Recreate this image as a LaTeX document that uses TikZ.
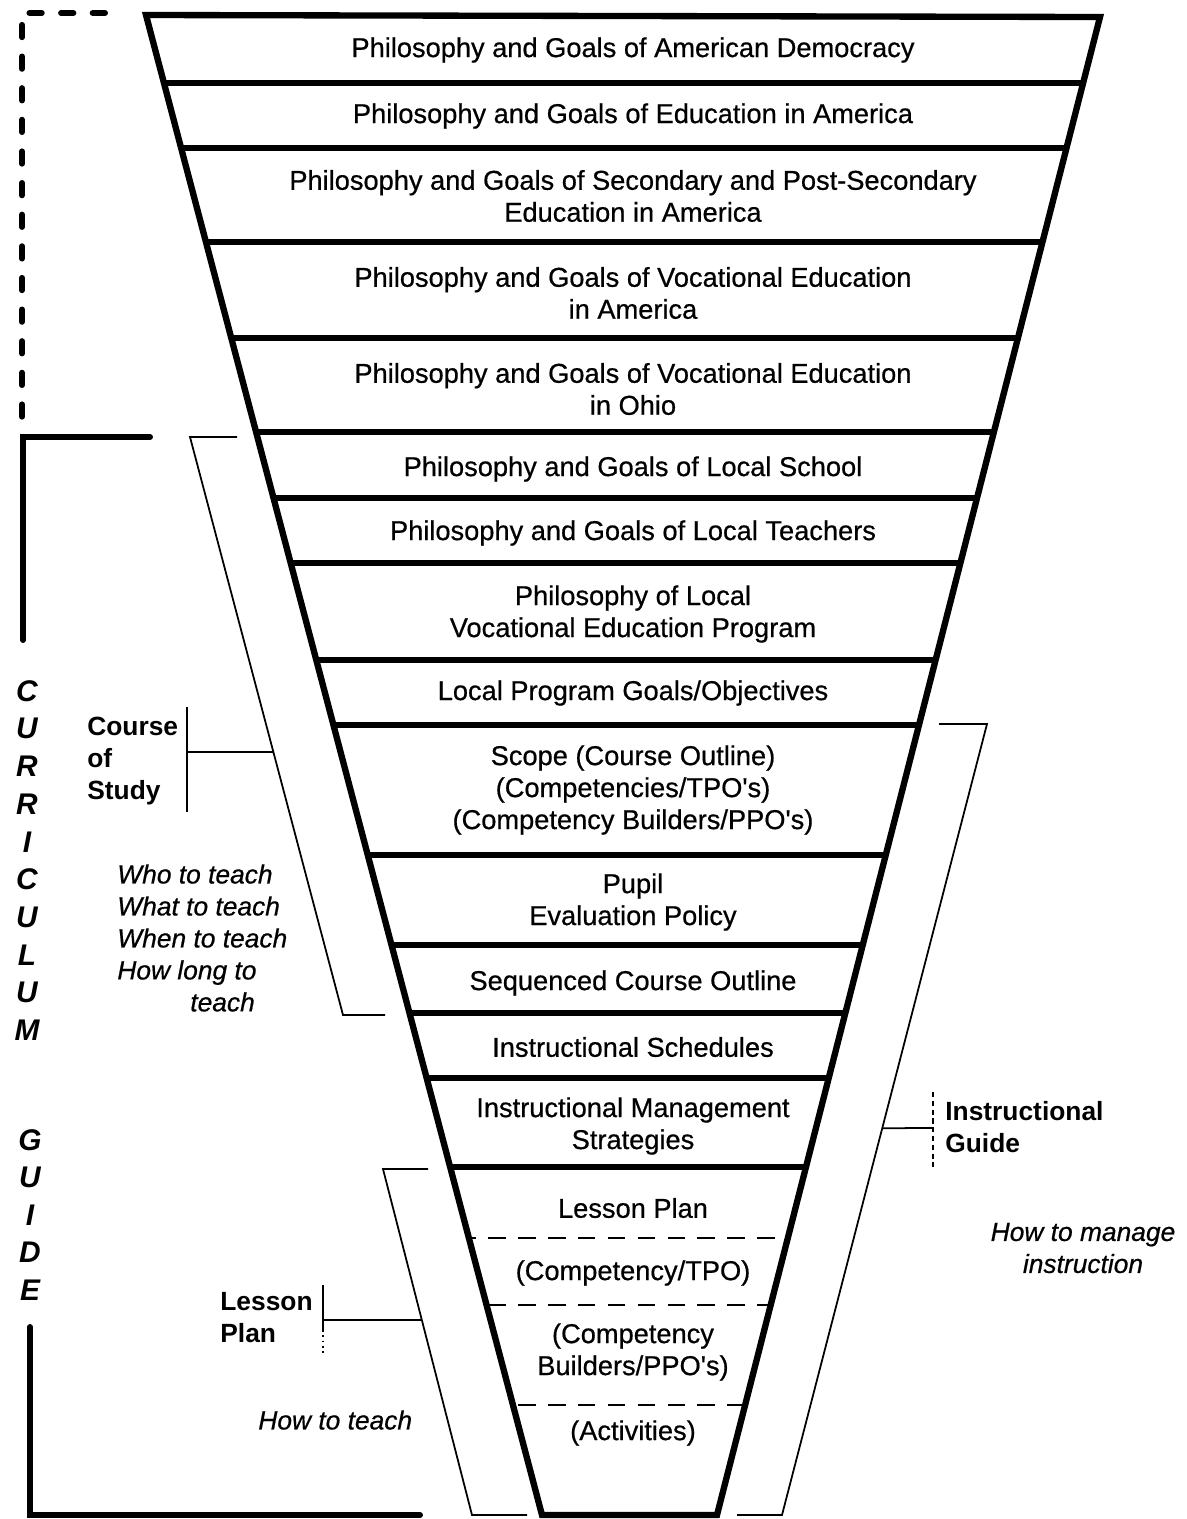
\documentclass[tikz,border=0pt]{standalone}
\usepackage{fontspec}
\setmainfont{Liberation Sans}
\newfontfamily\medsans[FakeBold=0.6]{Liberation Sans}
\usepackage{tikz}
\usetikzlibrary{calc, positioning}

\begin{document}
\begin{tikzpicture}[
  x=0.02cm, y=-0.02cm,
  band/.style={align=center, inner sep=0pt, font=\medsans\fontsize{15.5}{18.2}\selectfont},
  sidelabel/.style={align=left, inner sep=0pt, font=\fontsize{15}{18.2}\selectfont\bfseries},
  howlabel/.style={align=left, inner sep=0pt, font=\medsans\fontsize{15}{18.2}\selectfont\itshape},
  vletter/.style={inner sep=0pt, font=\fontsize{17}{19}\selectfont\bfseries\itshape},
  heavy/.style={line width=3.6pt},
  bracket/.style={line width=3.4pt, line cap=round},
  thinline/.style={line width=1pt},
  splitline/.style={line width=1.6pt, dash pattern=on 10pt off 7pt}
]
\useasboundingbox (0,0) rectangle (1187,1519);

\coordinate (ftl) at (146,15);
\coordinate (ftr) at (1100,17);
\coordinate (fbr) at (717,1515);
\coordinate (fbl) at (542,1515);

\begin{scope}
  \clip (ftl) -- (ftr) -- (fbr) -- (fbl) -- cycle;
  \foreach \yy in {83,148,242,338,432,498,563,660,725,855,945,1013,1078,1167}
    \draw[heavy] (100,\yy) -- (1150,\yy);
  \foreach \yy in {1238,1305,1405}
    \draw[splitline] (100,\yy) -- (1150,\yy);
\end{scope}
\draw[heavy] (ftl) -- (ftr) -- (fbr) -- (fbl) -- cycle;

\node[band] (b1) at (633,50) {Philosophy and Goals of American Democracy};
\node[band] (b2) at (633,116) {Philosophy and Goals of Education in America};
\node[band] (b3) at (633,196) {Philosophy and Goals of Secondary and Post-Secondary\\Education in America};
\node[band] (b4) at (633,293) {Philosophy and Goals of Vocational Education\\in America};
\node[band] (b5) at (633,389) {Philosophy and Goals of Vocational Education\\in Ohio};
\node[band] (b6) at (633,469) {Philosophy and Goals of Local School};
\node[band] (b7) at (633,533) {Philosophy and Goals of Local Teachers};
\node[band] (b8) at (633,614) {Philosophy of Local\\Vocational Education Program};
\node[band] (b9) at (633,693) {Local Program Goals/Objectives};
\node[band] (b10) at (633,790) {Scope (Course Outline)\\(Competencies/TPO's)\\(Competency Builders/PPO's)};
\node[band] (b11) at (633,902) {Pupil\\Evaluation Policy};
\node[band] (b12) at (633,983) {Sequenced Course Outline};
\node[band] (b13) at (633,1047) {Instructional Schedules};
\node[band] (b14) at (633,1126) {Instructional Management\\Strategies};
\node[band] (b15) at (633,1208) {Lesson Plan};
\node[band] (b16) at (633,1273) {(Competency/TPO)};
\node[band] (b17) at (633,1352) {(Competency\\Builders/PPO's)};
\node[band] (b18) at (633,1433) {(Activities)};

% curriculum guide
\draw[bracket, dash pattern=on 7pt off 11pt] (105,13) -- (22,13) -- (22,418);
\draw[bracket] (150,437) -- (23,437) -- (23,640);
\draw[bracket] (30,1327) -- (30,1515) -- (420,1515);
\foreach \ch [count=\i from 0] in {C,U,R,R,I,C,U,L,U,M}
  \node[vletter] (cur\i) at (27,{691+37.7*\i}) {\ch};
\foreach \ch [count=\i from 0] in {G,U,I,D,E}
  \node[vletter] (gui\i) at (30,{1140+37.5*\i}) {\ch};

% course of study
\coordinate (cs-corner) at (190,437);
\coordinate (cs-foot) at (343,1015);
\draw[thinline] (237,437) -- (cs-corner) -- (cs-foot) -- (385,1015);
\node[sidelabel, anchor=west] (course) at (87,761) {Course\\of\\Study};
\draw[thinline] (187,707) -- (187,812);
\draw[thinline] (187,752) -- ($(cs-corner)!0.545!(cs-foot)$);
\node[howlabel, anchor=west] (who) at (117,938) {Who to teach\\What to teach\\When to teach\\How long to\\\hspace*{1.46cm}teach};

% lesson plan
\coordinate (lp-corner) at (383,1169);
\coordinate (lp-foot) at (472,1515);
\draw[thinline] (428,1169) -- (lp-corner) -- (lp-foot) -- (527,1515);
\node[sidelabel, anchor=west] (lesson) at (220,1318) {Lesson\\Plan};
\draw[thinline] (323,1285) -- (323,1330);
\draw[thinline, dotted] (323,1330) -- (323,1354);
\draw[thinline] (323,1320) -- ($(lp-corner)!0.436!(lp-foot)$);
\node[howlabel, anchor=west] (howteach) at (258,1420) {How to teach};

% instructional guide
\coordinate (ig-corner) at (987,724);
\coordinate (ig-foot) at (782,1515);
\draw[thinline] (939,724) -- (ig-corner) -- (ig-foot) -- (737,1515);
\node[sidelabel, anchor=west] (guide) at (945,1127) {Instructional\\Guide};
\draw[thinline, densely dashed] (933,1092) -- (933,1167);
\draw[thinline] (933,1128) -- ($(ig-corner)!0.511!(ig-foot)$);
\node[howlabel, align=center] (manage) at (1083,1248) {How to manage\\instruction};
\end{tikzpicture}
\end{document}
